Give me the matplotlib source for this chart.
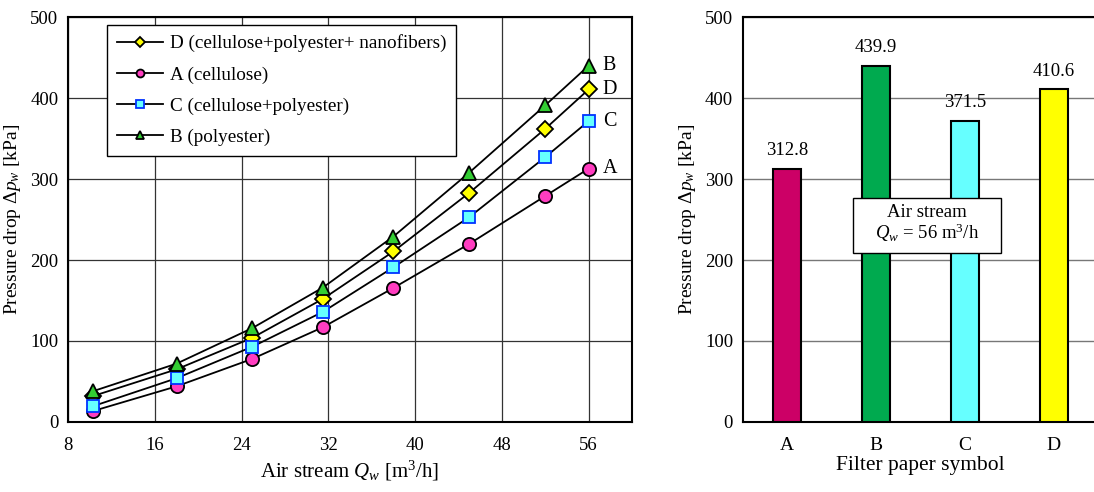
import numpy as np
import matplotlib
matplotlib.use("Agg")
from matplotlib import pyplot as plt
from matplotlib.patches import Rectangle

plt.rcParams['font.family'] = ['Liberation Serif', 'DejaVu Serif']
plt.rcParams['mathtext.fontset'] = 'custom'
plt.rcParams['mathtext.rm'] = 'Liberation Serif'
plt.rcParams['mathtext.it'] = 'Liberation Serif:italic'

# air stream [m3/h]
flow = [10.3, 18, 25, 31.5, 38, 45, 52, 56]
# pressure drop [kPa]
dp_A = [13.5, 44, 78, 117, 165.5, 220, 279, 312.8]
dp_B = [38, 72, 116, 166, 229, 308, 391, 439.9]
dp_C = [19.5, 54, 93, 136, 191, 253, 327, 371.5]
dp_D = [32, 65, 104, 152, 210.5, 283, 362, 410.6]

symbols = ['A', 'B', 'C', 'D']
dp_56 = [312.8, 439.9, 371.5, 410.6]
bar_colors = ['#CC0066', '#00AA4F', '#66FFFF', '#FFFF00']

fig = plt.figure(figsize=(10.94, 4.92), dpi=100)

# left: pressure drop vs air stream
ax1 = fig.add_axes([0.0622, 0.1423, 0.5155, 0.8231])
series = [
    ('D (cellulose+polyester+ nanofibers)', dp_D, 'D', '#FFFF00', 'black', 8.5),
    ('A (cellulose)', dp_A, 'o', '#FF3DC0', 'black', 9.5),
    ('C (cellulose+polyester)', dp_C, 's', '#66FFFF', '#0033FF', 8.5),
    ('B (polyester)', dp_B, '^', '#33CC33', 'black', 9.5),
]
for lab, y, mk, fc, ec, ms in series:
    ax1.plot(flow, y, color='black', lw=1.3, marker=mk, markersize=ms,
             markerfacecolor=fc, markeredgecolor=ec, markeredgewidth=1.3,
             label=lab)

for letter, y in zip(['B', 'D', 'C', 'A'], [dp_B, dp_D, dp_C, dp_A]):
    ax1.text(57.3, y[-1], letter, fontsize=14.5, va='center', ha='left')

ax1.set_xlim(8, 60)
ax1.set_ylim(0, 500)
ax1.set_xticks(np.arange(8, 57, 8))
ax1.set_yticks(np.arange(0, 501, 100))
ax1.grid(True, color='#333333', lw=0.9)
ax1.tick_params(length=0, labelsize=13.5, pad=7)
ax1.tick_params(axis='x', pad=11)
for s in ax1.spines.values():
    s.set_linewidth(1.5)
ax1.set_xlabel(r'Air stream $Q_w$ [m$^3$/h]', fontsize=15, labelpad=3)
ax1.set_ylabel(r'Pressure drop $\Delta p_w$ [kPa]', fontsize=14, labelpad=5)
leg = ax1.legend(loc='upper left', bbox_to_anchor=(0.063, 0.99), fontsize=13.8,
                 markerscale=0.6, handlelength=2.4, handletextpad=0.35,
                 fancybox=False, edgecolor='black', framealpha=1,
                 borderpad=0.5, labelspacing=0.72, borderaxespad=0.2)
leg.get_frame().set_linewidth(1.0)

# right: pressure drop at 56 m3/h
ax2 = fig.add_axes([0.679, 0.1423, 0.325, 0.8231])
xpos = np.arange(len(symbols))
ax2.bar(xpos, dp_56, width=0.32, color=bar_colors, edgecolor='black', lw=1.5, zorder=3)
for x, v in zip(xpos, dp_56):
    ax2.text(x, v + 12, f'{v:.1f}', ha='center', va='bottom', fontsize=13.5)
ax2.set_xlim(-0.5, 3.5)
ax2.set_ylim(0, 500)
ax2.set_xticks(xpos)
ax2.set_xticklabels(symbols)
ax2.set_yticks(np.arange(0, 501, 100))
ax2.yaxis.grid(True, color='#777777', lw=1.0, zorder=0)
ax2.tick_params(length=0, labelsize=13.5, pad=7)
ax2.tick_params(axis='x', labelsize=14, pad=11)
for s in ax2.spines.values():
    s.set_linewidth(1.5)
ax2.spines['right'].set_visible(False)
ax2.set_xlabel('Filter paper symbol', fontsize=15.5, labelpad=1)
ax2.set_ylabel(r'Pressure drop $\Delta p_w$ [kPa]', fontsize=14, labelpad=5)
ax2.add_patch(Rectangle((0.74, 209), 1.66, 67, fc='white', ec='black', lw=1.0, zorder=5))
ax2.text(1.57, 259, 'Air stream', ha='center', va='center', fontsize=13.5, zorder=6)
ax2.text(1.57, 233, r'$Q_w$ = 56 m$^3$/h', ha='center', va='center', fontsize=13.5, zorder=6)

fig.savefig('out.png', dpi=100)
